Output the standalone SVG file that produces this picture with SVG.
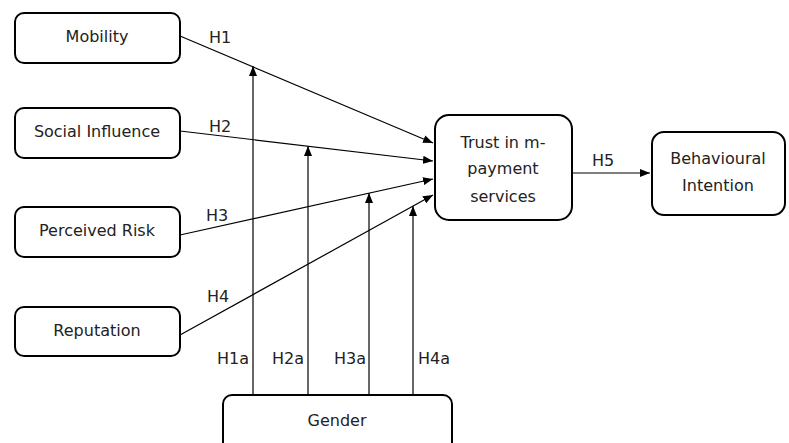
<svg xmlns="http://www.w3.org/2000/svg" width="789" height="443" viewBox="0 0 789 443">
<style>
.box{fill:#fff;stroke:#000;stroke-width:2}
.t{font-family:"DejaVu Sans",Verdana,sans-serif;font-size:16px;fill:#222;text-anchor:middle}
.l{font-family:"DejaVu Sans",Verdana,sans-serif;font-size:16px;fill:#222}
.c{stroke:#000;stroke-width:1.2;fill:none;marker-end:url(#ah)}
</style>
<defs>
<marker id="ah" viewBox="0 0 10 8" refX="10" refY="4" markerWidth="10" markerHeight="8" markerUnits="userSpaceOnUse" orient="auto">
<path d="M0,0 L10,4 L0,8 Z" fill="#000"/>
</marker>
</defs>
<g id="connectors">
<line class="c" x1="180" y1="36" x2="433" y2="143"/>
<line class="c" x1="180" y1="131" x2="433" y2="161"/>
<line class="c" x1="180" y1="235" x2="433" y2="179"/>
<line class="c" x1="180" y1="335" x2="433" y2="195"/>
<line class="c" x1="572" y1="173" x2="650" y2="173"/>
<line class="c" x1="253" y1="395" x2="253" y2="66"/>
<line class="c" x1="308" y1="395" x2="308" y2="146"/>
<line class="c" x1="369" y1="395" x2="369" y2="193"/>
<line class="c" x1="413" y1="395" x2="413" y2="206"/>
<text class="l" x="209" y="43">H1</text>
<text class="l" x="209" y="132">H2</text>
<text class="l" x="206" y="221">H3</text>
<text class="l" x="207" y="302">H4</text>
<text class="l" x="592" y="166">H5</text>
<text class="l" x="217" y="364">H1a</text>
<text class="l" x="272" y="364">H2a</text>
<text class="l" x="334" y="364">H3a</text>
<text class="l" x="418" y="364">H4a</text>
</g>
<g id="mobility"><rect class="box" x="15" y="13" width="165" height="50" rx="9"/><text class="t" x="97" y="42">Mobility</text></g>
<g id="social"><rect class="box" x="15" y="108" width="165" height="50" rx="9"/><text class="t" x="97" y="137">Social Influence</text></g>
<g id="risk"><rect class="box" x="15" y="207" width="165" height="50" rx="9"/><text class="t" x="97" y="236">Perceived Risk</text></g>
<g id="reputation"><rect class="box" x="15" y="307" width="165" height="49" rx="9"/><text class="t" x="97" y="336">Reputation</text></g>
<g id="trust"><rect class="box" x="435" y="115" width="137" height="105" rx="14"/><text class="t" x="503" y="148">Trust in m-</text><text class="t" x="503" y="174">payment</text><text class="t" x="503" y="202">services</text></g>
<g id="intention"><rect class="box" x="652" y="132" width="133" height="83" rx="12"/><text class="t" x="718" y="164">Behavioural</text><text class="t" x="718" y="191">Intention</text></g>
<g id="gender"><rect class="box" x="223" y="395" width="229" height="60" rx="9"/><text class="t" x="337" y="426">Gender</text></g>
</svg>
